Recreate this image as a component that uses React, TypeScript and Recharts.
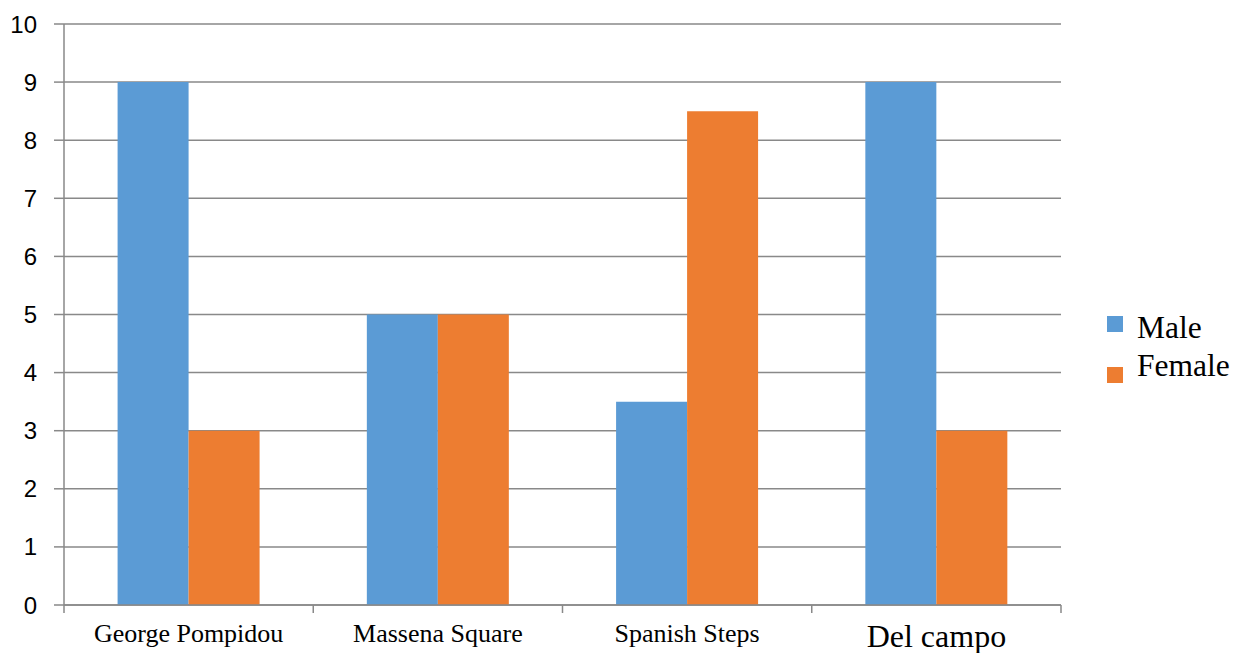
import React from "react";
import { BarChart, Bar, XAxis, YAxis, CartesianGrid, Legend } from "recharts";

const categories = ["George Pompidou", "Massena Square", "Spanish Steps", "Del campo"];
const maleValues = [9, 5, 3.5, 9];
const femaleValues = [3, 5, 8.5, 3];
const yTicks = [0, 1, 2, 3, 4, 5, 6, 7, 8, 9, 10];
const seriesNames = ["Male", "Female"];

const data = categories.map((name, i) => ({ name, Male: maleValues[i], Female: femaleValues[i] }));

const GRAY = "#898989";
const BLUE = "#5B9BD5";
const ORANGE = "#ED7D31";

const CategoryTick = (props: any) => {
  const { x, y, payload, index } = props;
  const half = payload.offset || 0;
  const big = index === categories.length - 1;
  return (
    <g>
      <line x1={x - half} x2={x - half} y1={y} y2={y + 8} stroke={GRAY} strokeWidth={1.5} />
      {index === categories.length - 1 && (
        <line x1={x + half} x2={x + half} y1={y} y2={y + 8} stroke={GRAY} strokeWidth={1.5} />
      )}
      <text
        x={x}
        y={y}
        dy={big ? 42 : 37}
        textAnchor="middle"
        fill="#000"
        fontFamily="'Liberation Serif', 'Times New Roman', serif"
        fontSize={big ? 32 : 26}
      >
        {payload.value}
      </text>
    </g>
  );
};

const LegendContent = (props: any) => {
  const { payload } = props;
  const items = seriesNames
    .map((n) => (payload || []).find((p: any) => p.value === n || p.dataKey === n))
    .filter(Boolean);
  return (
    <svg width={181} height={100} style={{ display: "block" }}>
      {items.map((entry: any, i: number) => (
        <g key={entry.value}>
          <rect x={46} y={i === 0 ? 16 : 67} width={16} height={16} fill={entry.color} />
          <text
            x={76}
            y={i === 0 ? 38 : 76}
            fontFamily="'Liberation Serif', 'Times New Roman', serif"
            fontSize={31.5}
            fill="#000"
          >
            {entry.value}
          </text>
        </g>
      ))}
    </svg>
  );
};

export default function App() {
  return (
    <div style={{ position: "absolute", left: 0, top: 0, width: 1242, height: 653, background: "#fff" }}>
      <BarChart
        width={1242}
        height={653}
        data={data}
        margin={{ top: 24, right: 0, bottom: 0, left: 0 }}
        barCategoryGap="21.5%"
        barGap={0}
      >
        <CartesianGrid vertical={false} stroke={GRAY} strokeWidth={1.5} />
        <XAxis
          dataKey="name"
          height={48}
          tickLine={false}
          tickSize={0}
          tickMargin={0}
          axisLine={{ stroke: GRAY, strokeWidth: 1.5 }}
          tick={<CategoryTick />}
          interval={0}
        />
        <YAxis
          width={64}
          domain={[0, 10]}
          ticks={yTicks}
          interval={0}
          tickSize={10}
          tickMargin={17}
          axisLine={{ stroke: GRAY, strokeWidth: 1.5 }}
          tickLine={{ stroke: GRAY, strokeWidth: 1.5 }}
          tick={{ fill: "#000", fontSize: 24, fontFamily: "'Liberation Sans', Arial, sans-serif" }}
        />
        <Legend
          layout="vertical"
          align="right"
          verticalAlign="top"
          width={181}
          wrapperStyle={{ top: 300, right: 0 }}
          content={<LegendContent />}
        />
        <Bar dataKey="Male" fill={BLUE} isAnimationActive={false} />
        <Bar dataKey="Female" fill={ORANGE} isAnimationActive={false} />
      </BarChart>
    </div>
  );
}
